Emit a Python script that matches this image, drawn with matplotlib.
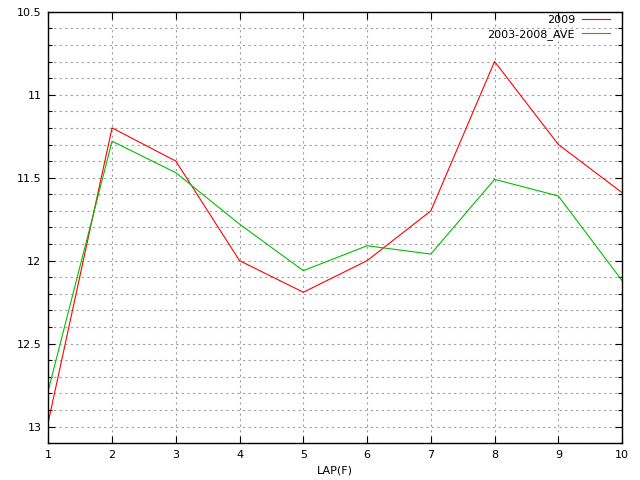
import matplotlib
matplotlib.use("Agg")
import matplotlib.pyplot as plt
from matplotlib.ticker import MultipleLocator, FormatStrFormatter

# lap data
laps = [1, 2, 3, 4, 5, 6, 7, 8, 9, 10]
times_2009 = [12.97, 11.2, 11.4, 12.0, 12.19, 12.0, 11.7, 10.8, 11.3, 11.59]
times_ave = [12.78, 11.28, 11.47, 11.78, 12.06, 11.91, 11.96, 11.51, 11.61, 12.12]

plt.rcParams['font.family'] = ['DejaVu Sans']
plt.rcParams['font.size'] = 8

fig = plt.figure(figsize=(6.4, 4.8), dpi=100)
ax = fig.add_axes([0.0755, 0.0765, 0.8965, 0.8991])

ax.plot(laps, times_2009, color='#ff0000', lw=0.8, label='2009')
ax.plot(laps, times_ave, color='#00c000', lw=0.8, label='2003-2008_AVE')

# gnuplot-ish axes: inverted y, ticks inward on all sides
ax.set_xlim(1, 10)
ax.set_ylim(13.1, 10.5)
ax.xaxis.set_major_locator(MultipleLocator(1))
ax.yaxis.set_major_locator(MultipleLocator(0.5))
ax.yaxis.set_minor_locator(MultipleLocator(0.1))
ax.yaxis.set_major_formatter(FormatStrFormatter('%g'))
ax.tick_params(which='both', direction='in', top=True, right=True, colors='black')
ax.tick_params(which='major', length=5, width=0.8, pad=5)
ax.tick_params(which='minor', length=3, width=0.8)

ax.grid(which='both', color='#a0a0a0', linestyle=(0, (2, 3)), lw=0.8)
for s in ax.spines.values():
    s.set_linewidth(1.0)

ax.set_xlabel('LAP(F)', labelpad=4)

ax.legend(loc='upper right', bbox_to_anchor=(0.982, 0.998), frameon=False,
          markerfirst=False, handlelength=2.5, borderaxespad=0, borderpad=0.2,
          labelspacing=0.35, handletextpad=0.6)

fig.savefig('out.png', dpi=100)
